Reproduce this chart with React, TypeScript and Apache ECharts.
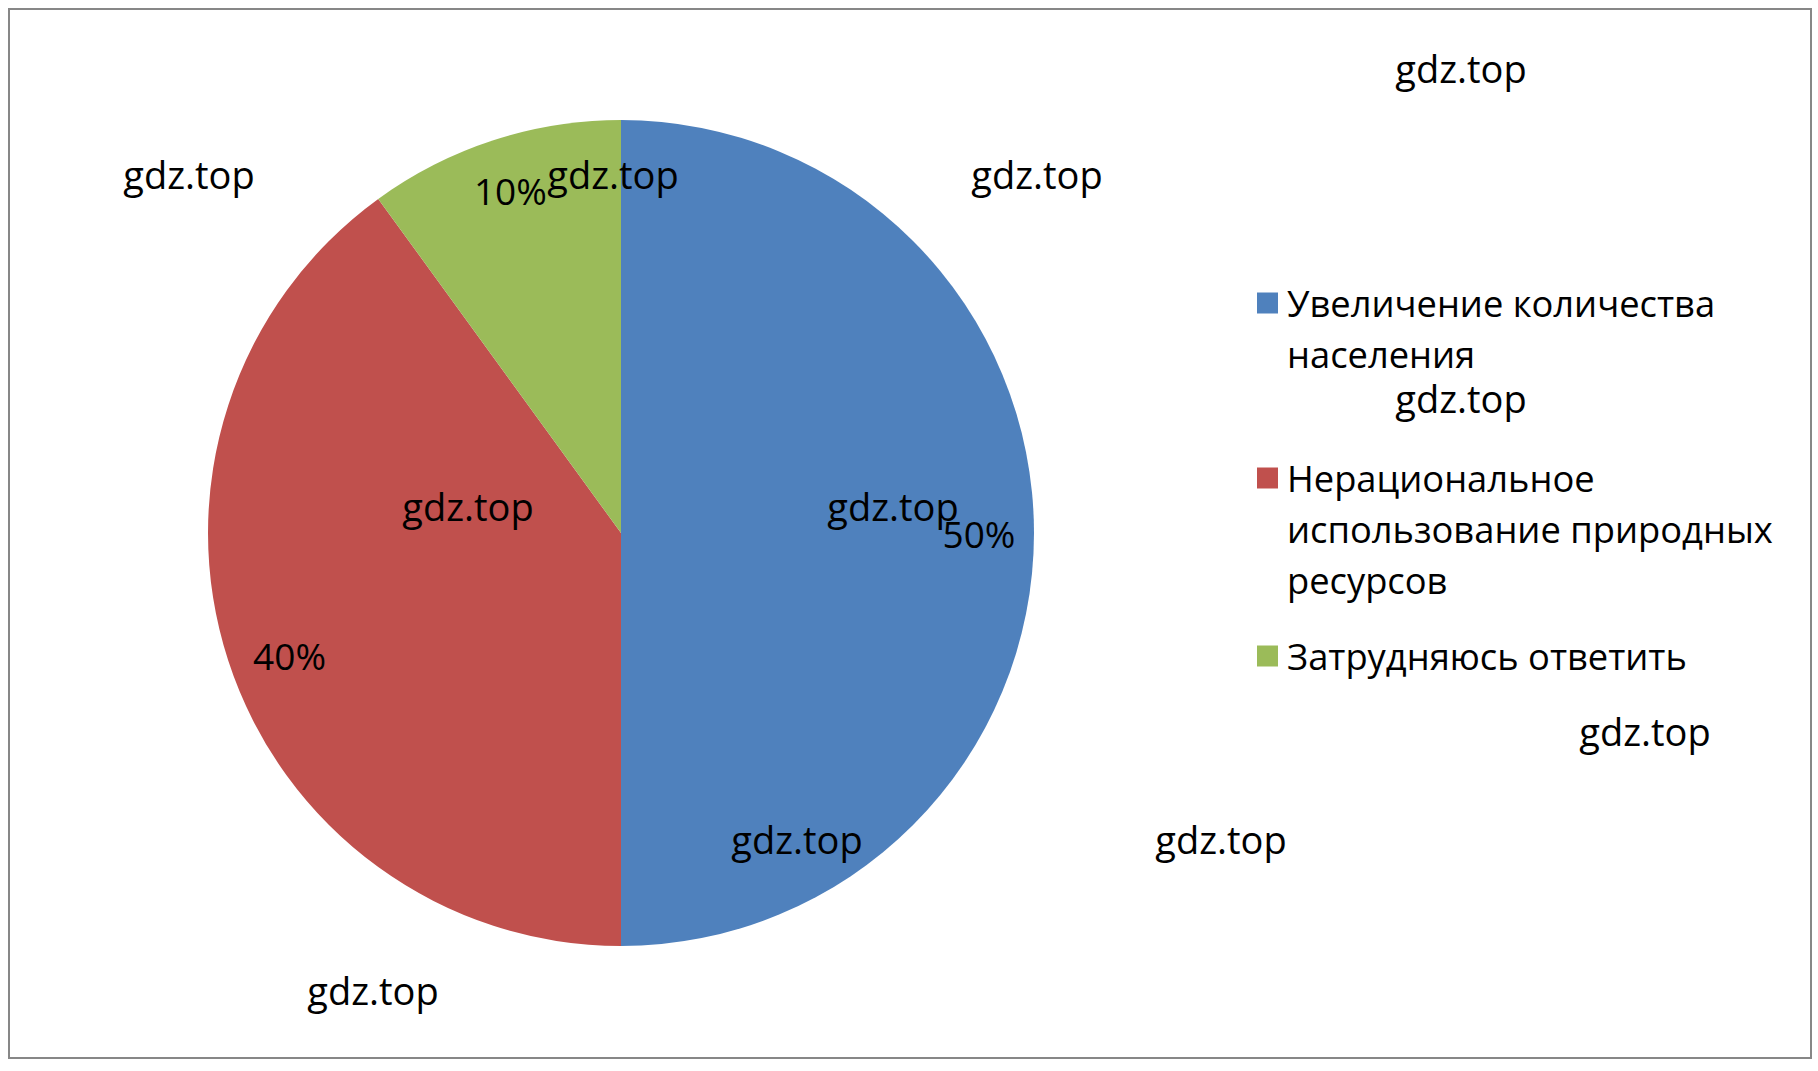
import React, { useEffect, useRef } from "react";
import * as echarts from "echarts";

const categories = [
  "Увеличение количества населения",
  "Нерациональное использование природных ресурсов",
  "Затрудняюсь ответить",
];
const legendLines = [
  ["Увеличение количества", "населения"],
  ["Нерациональное", "использование природных", "ресурсов"],
  ["Затрудняюсь ответить"],
];
const values = [50, 40, 10];
const colors = ["#4F81BD", "#C0504D", "#9BBB59"];
const watermarkText = "gdz.top";
const watermarkPositions = [
  [1461, 68],
  [189, 174],
  [613, 174],
  [1037, 174],
  [1461, 398],
  [468, 506],
  [893, 506],
  [1645, 731],
  [797, 839],
  [1221, 839],
  [373, 990],
];
const legendIconCenters = [303, 478, 656];

const FONT = "'Open Sans', 'Noto Sans', sans-serif";

export default function App() {
  const ref = useRef<HTMLDivElement>(null);
  useEffect(() => {
    if (!ref.current) return;
    const chart = echarts.init(ref.current, null, { renderer: "svg" });
    const cx = 621;
    const cy = 533;
    const R = 413;
    const L = 51;
    const data = categories.map((name, i) => ({
      name,
      value: values[i],
      itemStyle: { color: colors[i] },
    }));
    const legends = categories.map((name, i) => {
      const n = legendLines[i].length;
      return {
        data: [name],
        left: 1257,
        top: legendIconCenters[i] - ((2 * n - 1) * L) / 2,
        orient: "vertical",
        padding: 0,
        itemWidth: 21,
        itemHeight: 21,
        icon: "rect",
        selectedMode: false,
        formatter: () => "\n".repeat(n - 1) + legendLines[i].join("\n"),
        textStyle: {
          fontFamily: FONT,
          fontSize: 36.3,
          lineHeight: L,
          color: "#000",
          padding: [0, 0, 0, 4],
        },
      };
    });
    chart.setOption({
      animation: false,
      backgroundColor: "#fff",
      legend: legends,
      series: [
        {
          type: "pie",
          center: [cx, cy],
          radius: [0, R],
          startAngle: 90,
          clockwise: true,
          silent: true,
          label: { show: false },
          labelLine: { show: false },
          itemStyle: { borderWidth: 0 },
          data,
        },
        {
          type: "pie",
          center: [cx, cy],
          radius: [297, R],
          startAngle: 90,
          clockwise: true,
          silent: true,
          itemStyle: { color: "rgba(0,0,0,0)", borderWidth: 0 },
          label: {
            show: true,
            position: "inside",
            formatter: (p: any) => `${p.value}%`,
            fontFamily: FONT,
            fontSize: 37,
            color: "#000",
          },
          labelLayout: (p: any) =>
            p.dataIndex === 1 ? { dx: 9, dy: 12 } : p.dataIndex === 2 ? { dy: -2 } : {},
          labelLine: { show: false },
          data: categories.map((name, i) => ({ name, value: values[i] })),
        },
      ],
      graphic: [
        {
          type: "rect",
          shape: { x: 9, y: 9, width: 1802, height: 1049 },
          style: { fill: "none", stroke: "#878787", lineWidth: 2 },
          silent: true,
          z: 0,
        },
        ...watermarkPositions.map(([x, y]) => ({
          type: "text",
          x,
          y,
          z: 100,
          silent: true,
          style: {
            text: watermarkText,
            fontFamily: FONT,
            fontSize: 38,
            fill: "#000",
            align: "center",
            verticalAlign: "middle",
          },
        })),
      ],
    });
    return () => chart.dispose();
  }, []);
  return (
    <div
      ref={ref}
      style={{ position: "fixed", left: 0, top: 0, width: 1818, height: 1071 }}
    />
  );
}
